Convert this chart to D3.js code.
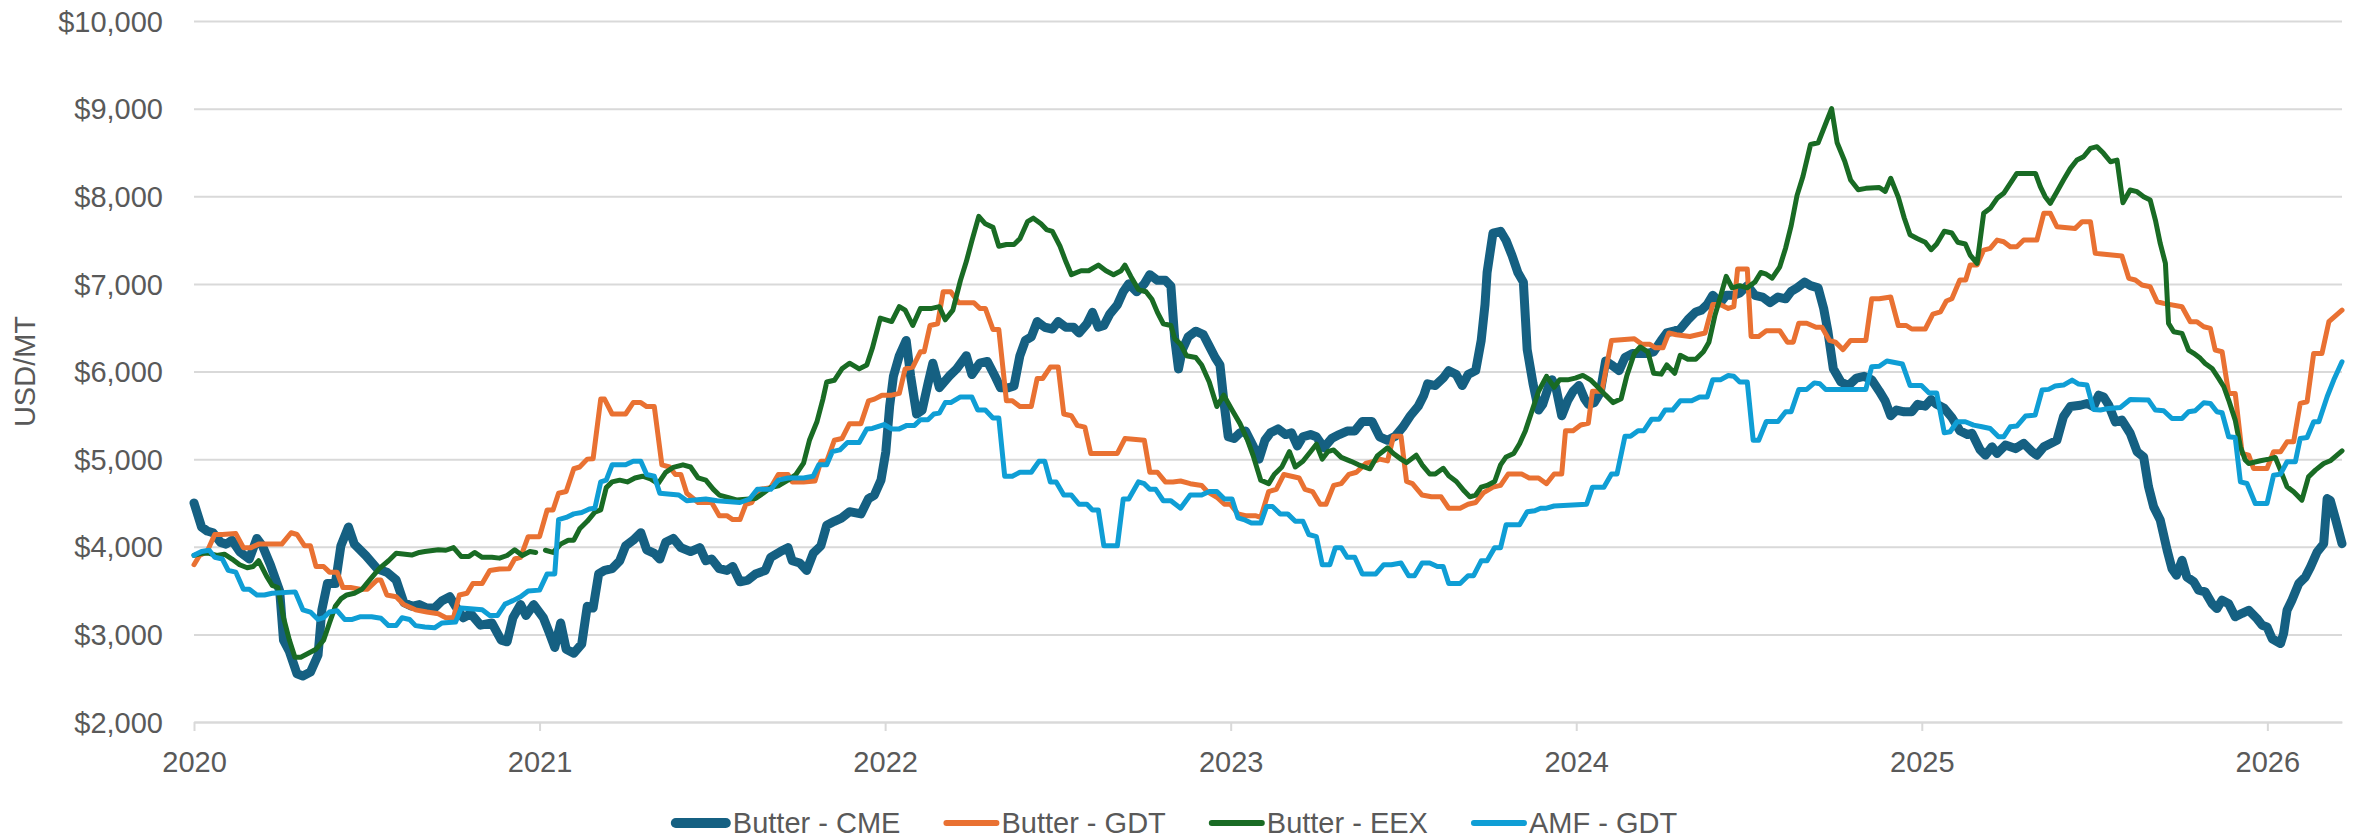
<!DOCTYPE html>
<html><head><meta charset="utf-8">
<script src="https://cdn.jsdelivr.net/npm/d3@7"></script>
<style>
html,body{margin:0;padding:0;background:#fff;}
svg{display:block;}
text{font-family:"Liberation Sans",Arial,sans-serif;fill:#595959;}
</style></head><body>
<svg id="chart" width="2356" height="840"></svg>
<script>
const seriesNames = ["Butter - CME","Butter - GDT","Butter - EEX","AMF - GDT"];
const seriesColors = ["#156082","#E97132","#196B24","#0F9ED5"];
const yTicks = [2000,3000,4000,5000,6000,7000,8000,9000,10000];
const xTicks = [2020,2021,2022,2023,2024,2025,2026];
const yTitle = "USD/MT";

// [decimal year, USD/MT]
const butterCME = [[2020.000,4500],[2020.022,4225],[2020.038,4180],[2020.055,4160],[2020.077,4050],[2020.093,4030],[2020.110,4075],[2020.132,3945],[2020.160,3860],[2020.182,4095],[2020.198,4010],[2020.221,3795],[2020.248,3495],[2020.259,2935],[2020.276,2805],[2020.298,2550],[2020.315,2525],[2020.337,2570],[2020.359,2765],[2020.370,3280],[2020.386,3580],[2020.409,3580],[2020.425,4010],[2020.447,4225],[2020.464,4030],[2020.497,3900],[2020.530,3750],[2020.558,3710],[2020.585,3620],[2020.607,3365],[2020.630,3320],[2020.652,3340],[2020.674,3300],[2020.696,3300],[2020.718,3385],[2020.740,3430],[2020.757,3320],[2020.779,3190],[2020.801,3235],[2020.829,3105],[2020.862,3130],[2020.889,2935],[2020.906,2915],[2020.923,3190],[2020.945,3340],[2020.961,3215],[2020.983,3340],[2021.011,3190],[2021.028,3020],[2021.044,2850],[2021.061,3130],[2021.077,2830],[2021.099,2785],[2021.122,2890],[2021.138,3320],[2021.155,3300],[2021.171,3690],[2021.188,3730],[2021.210,3750],[2021.232,3840],[2021.249,4010],[2021.271,4075],[2021.293,4160],[2021.310,3965],[2021.332,3925],[2021.348,3860],[2021.365,4050],[2021.387,4095],[2021.409,3990],[2021.437,3945],[2021.464,3990],[2021.481,3840],[2021.498,3860],[2021.520,3750],[2021.542,3730],[2021.559,3775],[2021.580,3600],[2021.603,3620],[2021.625,3690],[2021.653,3730],[2021.669,3880],[2021.697,3945],[2021.719,3990],
[2021.731,3840],[2021.753,3815],[2021.773,3730],[2021.792,3925],[2021.814,4010],[2021.831,4245],[2021.853,4290],[2021.875,4330],[2021.897,4400],[2021.930,4375],[2021.952,4550],[2021.969,4590],[2021.988,4760],[2022.002,5085],[2022.013,5600],[2022.024,5945],[2022.041,6180],[2022.061,6355],[2022.074,5945],[2022.091,5515],[2022.107,5558],[2022.124,5860],[2022.138,6095],[2022.157,5815],[2022.185,5945],[2022.207,6030],[2022.235,6180],[2022.251,5965],[2022.274,6095],[2022.296,6115],[2022.318,5945],[2022.334,5815],[2022.357,5815],[2022.373,5835],[2022.390,6180],[2022.406,6355],[2022.423,6395],[2022.440,6570],[2022.462,6505],[2022.484,6485],[2022.501,6570],[2022.523,6505],[2022.545,6505],[2022.561,6440],[2022.584,6545],[2022.600,6675],[2022.617,6505],[2022.633,6525],[2022.650,6655],[2022.672,6760],[2022.689,6910],[2022.705,7000],[2022.728,6910],[2022.750,7000],[2022.766,7105],[2022.788,7040],[2022.811,7040],[2022.827,6975],[2022.838,6375],[2022.849,6030],[2022.860,6245],[2022.877,6395],[2022.899,6460],[2022.921,6420],[2022.938,6290],[2022.955,6160],[2022.969,6075],[2022.982,5600],[2022.993,5255],[2023.010,5235],[2023.027,5300],[2023.043,5320],[2023.065,5150],[2023.082,5000],[2023.099,5215],[2023.115,5300],[2023.137,5345],[2023.159,5280],[2023.176,5300],[2023.193,5150],[2023.209,5255],[2023.231,5280],[2023.248,5255],[2023.270,5130],[2023.292,5235],[2023.314,5280],[2023.337,5320],[2023.359,5320],[2023.381,5430],[2023.409,5430],[2023.431,5255],
[2023.454,5215],[2023.476,5260],[2023.498,5365],[2023.520,5495],[2023.543,5605],[2023.559,5730],[2023.570,5860],[2023.592,5840],[2023.615,5925],[2023.631,6010],[2023.653,5965],[2023.670,5840],[2023.687,5965],[2023.709,6010],[2023.725,6355],[2023.736,6765],[2023.742,7130],[2023.759,7580],[2023.781,7600],[2023.797,7495],[2023.814,7325],[2023.831,7130],[2023.847,7020],[2023.858,6250],[2023.875,5860],[2023.891,5560],[2023.903,5625],[2023.919,5820],[2023.930,5905],[2023.941,5820],[2023.958,5495],[2023.975,5665],[2023.991,5775],[2024.008,5840],[2024.024,5690],[2024.035,5625],[2024.052,5645],[2024.069,5755],[2024.085,6120],[2024.102,6075],[2024.124,6010],[2024.141,6160],[2024.163,6205],[2024.202,6205],[2024.224,6225],[2024.246,6355],[2024.262,6440],[2024.285,6465],[2024.301,6485],[2024.323,6590],[2024.346,6680],[2024.362,6700],[2024.379,6765],[2024.395,6870],[2024.417,6785],[2024.434,6870],[2024.456,6870],[2024.473,6895],[2024.495,6980],[2024.517,6870],[2024.539,6850],[2024.561,6785],[2024.584,6850],[2024.606,6830],[2024.622,6915],[2024.639,6955],[2024.661,7020],[2024.678,6980],[2024.700,6955],[2024.716,6720],[2024.728,6465],[2024.744,6030],[2024.766,5880],[2024.788,5840],[2024.811,5925],[2024.833,5945],[2024.855,5905],[2024.877,5775],[2024.894,5665],[2024.910,5495],[2024.927,5560],[2024.949,5540],[2024.971,5540],[2024.988,5625],[2025.010,5605],[2025.027,5680],[2025.043,5625],[2025.065,5580],[2025.087,5475],[2025.110,5325],[2025.132,5280],
[2025.145,5295],[2025.169,5105],[2025.184,5045],[2025.203,5140],[2025.218,5065],[2025.242,5160],[2025.271,5120],[2025.295,5180],[2025.319,5085],[2025.333,5045],[2025.353,5140],[2025.391,5215],[2025.410,5485],[2025.430,5600],[2025.459,5615],[2025.478,5635],[2025.497,5600],[2025.512,5730],[2025.526,5710],[2025.541,5615],[2025.560,5425],[2025.579,5445],[2025.603,5295],[2025.623,5085],[2025.642,5025],[2025.656,4685],[2025.671,4455],[2025.690,4305],[2025.710,3960],[2025.724,3750],[2025.737,3675],[2025.753,3845],[2025.767,3655],[2025.787,3600],[2025.801,3505],[2025.820,3485],[2025.840,3350],[2025.854,3295],[2025.869,3390],[2025.888,3350],[2025.907,3200],[2025.927,3240],[2025.946,3275],[2025.970,3180],[2025.985,3105],[2025.999,3085],[2026.014,2950],[2026.038,2895],[2026.047,3010],[2026.057,3275],[2026.071,3390],[2026.091,3580],[2026.110,3655],[2026.125,3770],[2026.144,3940],[2026.163,4035],[2026.173,4550],[2026.182,4530],[2026.197,4320],[2026.216,4035]];

const butterGDT = [[2020.000,3795],[2020.016,3900],[2020.038,3945],[2020.060,4140],[2020.082,4140],[2020.121,4150],[2020.143,3990],[2020.165,3990],[2020.187,4030],[2020.254,4030],[2020.281,4160],[2020.298,4140],[2020.320,4010],[2020.337,4010],[2020.353,3775],[2020.375,3775],[2020.392,3710],[2020.414,3710],[2020.431,3535],[2020.453,3535],[2020.480,3515],[2020.502,3515],[2020.530,3620],[2020.541,3620],[2020.558,3450],[2020.585,3430],[2020.607,3340],[2020.641,3280],[2020.674,3255],[2020.707,3235],[2020.729,3190],[2020.751,3190],[2020.768,3450],[2020.790,3470],[2020.807,3580],[2020.834,3580],[2020.856,3730],[2020.884,3745],[2020.912,3750],[2020.928,3860],[2020.945,3880],[2020.967,4115],[2021.000,4115],[2021.022,4420],[2021.039,4420],[2021.055,4610],[2021.077,4630],[2021.099,4890],[2021.116,4910],[2021.138,5000],[2021.155,5005],[2021.177,5685],[2021.188,5685],[2021.210,5515],[2021.249,5515],[2021.271,5645],[2021.293,5645],[2021.310,5600],[2021.332,5600],[2021.354,4935],[2021.376,4910],[2021.393,4825],[2021.409,4825],[2021.426,4610],[2021.459,4505],[2021.498,4505],[2021.520,4355],[2021.542,4355],[2021.559,4310],[2021.580,4310],[2021.597,4485],[2021.614,4505],[2021.636,4655],[2021.669,4675],[2021.691,4825],[2021.719,4825],
[2021.731,4740],[2021.764,4740],[2021.797,4750],[2021.814,4975],[2021.831,4975],[2021.853,5215],[2021.875,5235],[2021.897,5405],[2021.930,5405],[2021.952,5665],[2021.969,5685],[2021.991,5730],[2022.019,5730],[2022.041,5750],[2022.058,6030],[2022.080,6050],[2022.102,6225],[2022.113,6225],[2022.130,6525],[2022.152,6545],[2022.168,6910],[2022.190,6910],[2022.213,6785],[2022.257,6785],[2022.274,6720],[2022.290,6720],[2022.312,6480],[2022.329,6480],[2022.351,5665],[2022.368,5665],[2022.390,5600],[2022.423,5600],[2022.440,5920],[2022.456,5920],[2022.478,6050],[2022.501,6050],[2022.517,5515],[2022.539,5495],[2022.556,5385],[2022.578,5365],[2022.595,5065],[2022.672,5065],[2022.694,5235],[2022.750,5215],[2022.766,4850],[2022.788,4850],[2022.811,4740],[2022.833,4740],[2022.855,4750],[2022.883,4720],[2022.916,4700],[2022.932,4630],[2022.960,4565],[2022.982,4485],[2022.999,4485],[2023.021,4375],[2023.043,4355],[2023.071,4355],[2023.087,4335],[2023.110,4630],[2023.132,4655],[2023.154,4825],[2023.176,4805],[2023.198,4785],[2023.215,4655],[2023.237,4630],[2023.259,4485],[2023.276,4485],[2023.298,4700],[2023.320,4720],[2023.342,4825],[2023.364,4850],[2023.392,4955],[2023.414,4975],[2023.431,5000],
[2023.454,4980],[2023.471,5260],[2023.493,5260],[2023.509,4745],[2023.526,4720],[2023.554,4590],[2023.581,4570],[2023.609,4570],[2023.631,4440],[2023.664,4440],[2023.687,4485],[2023.709,4505],[2023.731,4615],[2023.759,4680],[2023.781,4700],[2023.803,4830],[2023.842,4830],[2023.864,4785],[2023.891,4785],[2023.914,4720],[2023.936,4830],[2023.958,4830],[2023.969,5325],[2023.991,5325],[2024.013,5390],[2024.035,5410],[2024.047,5775],[2024.074,5775],[2024.102,6355],[2024.168,6375],[2024.190,6310],[2024.213,6310],[2024.229,6270],[2024.251,6270],[2024.268,6440],[2024.290,6420],[2024.329,6400],[2024.373,6440],[2024.395,6765],[2024.417,6765],[2024.440,6720],[2024.456,6740],[2024.467,7170],[2024.495,7170],[2024.506,6400],[2024.528,6400],[2024.550,6465],[2024.589,6465],[2024.611,6335],[2024.628,6335],[2024.644,6550],[2024.667,6550],[2024.694,6505],[2024.711,6505],[2024.733,6355],[2024.750,6335],[2024.772,6250],[2024.794,6355],[2024.838,6355],[2024.855,6830],[2024.877,6830],[2024.910,6850],[2024.932,6525],[2024.955,6525],[2024.971,6485],[2025.010,6485],[2025.032,6655],[2025.054,6680],[2025.071,6805],[2025.087,6830],[2025.110,7045],[2025.127,7045],
[2025.140,7215],[2025.160,7215],[2025.179,7386],[2025.198,7405],[2025.218,7500],[2025.237,7481],[2025.256,7424],[2025.275,7424],[2025.295,7500],[2025.333,7500],[2025.353,7805],[2025.372,7805],[2025.391,7652],[2025.444,7633],[2025.464,7710],[2025.488,7710],[2025.502,7348],[2025.521,7340],[2025.579,7318],[2025.599,7063],[2025.618,7044],[2025.637,6987],[2025.661,6968],[2025.681,6796],[2025.700,6777],[2025.753,6739],[2025.777,6568],[2025.796,6568],[2025.816,6511],[2025.835,6492],[2025.849,6245],[2025.869,6226],[2025.888,5750],[2025.907,5750],[2025.927,5065],[2025.946,5046],[2025.960,4893],[2025.999,4893],[2026.018,5084],[2026.038,5084],[2026.057,5198],[2026.076,5198],[2026.095,5636],[2026.115,5655],[2026.134,6206],[2026.158,6206],[2026.178,6568],[2026.216,6701]];

const butterEEX = [[2020.000,3902],[2020.022,3925],[2020.044,3925],[2020.066,3900],[2020.088,3915],[2020.110,3860],[2020.132,3795],[2020.154,3760],[2020.171,3775],[2020.187,3840],[2020.210,3665],[2020.226,3560],[2020.243,3535],[2020.259,3190],[2020.276,2935],[2020.292,2740],[2020.309,2740],[2020.331,2785],[2020.353,2830],[2020.375,2935],[2020.392,3130],[2020.409,3320],[2020.425,3405],[2020.442,3450],[2020.464,3470],[2020.486,3515],[2020.508,3620],[2020.536,3750],[2020.563,3840],[2020.585,3925],[2020.630,3905],[2020.652,3935],[2020.668,3945],[2020.707,3965],[2020.729,3960],[2020.751,3990],[2020.773,3890],[2020.796,3890],[2020.812,3935],[2020.834,3880],[2020.862,3880],[2020.884,3870],[2020.906,3900],[2020.928,3965],[2020.950,3900],[2020.972,3945],[2020.989,3935],[2021.003,null],[2021.017,3960],[2021.039,3935],[2021.061,4030],[2021.083,4075],[2021.099,4075],[2021.116,4205],[2021.138,4290],[2021.160,4395],[2021.177,4420],[2021.193,4675],[2021.210,4740],[2021.232,4760],[2021.254,4740],[2021.276,4785],[2021.298,4805],[2021.321,4775],[2021.343,4720],[2021.365,4850],[2021.387,4905],[2021.415,4935],[2021.437,4910],[2021.459,4785],[2021.481,4760],[2021.503,4655],[2021.520,4590],[2021.547,4560],[2021.570,4535],[2021.625,4550],[2021.647,4610],[2021.669,4675],[2021.691,4695],[2021.719,4760],
[2021.742,4825],[2021.764,4955],[2021.781,5215],[2021.803,5430],[2021.820,5685],[2021.831,5880],[2021.853,5900],[2021.875,6030],[2021.897,6095],[2021.925,6030],[2021.947,6075],[2021.963,6265],[2021.986,6610],[2022.019,6570],[2022.041,6740],[2022.058,6700],[2022.080,6525],[2022.102,6720],[2022.135,6720],[2022.157,6740],[2022.174,6590],[2022.196,6700],[2022.218,7040],[2022.235,7255],[2022.251,7490],[2022.271,7770],[2022.290,7685],[2022.312,7645],[2022.329,7430],[2022.351,7450],[2022.373,7450],[2022.390,7515],[2022.412,7710],[2022.429,7750],[2022.451,7685],[2022.467,7620],[2022.484,7600],[2022.506,7430],[2022.523,7255],[2022.539,7105],[2022.567,7150],[2022.589,7150],[2022.617,7215],[2022.639,7150],[2022.661,7105],[2022.683,7150],[2022.694,7215],[2022.711,7085],[2022.733,6935],[2022.755,6910],[2022.772,6825],[2022.788,6675],[2022.805,6545],[2022.827,6525],[2022.838,6375],[2022.855,6310],[2022.872,6180],[2022.899,6160],[2022.916,6075],[2022.938,5880],[2022.960,5600],[2022.980,5730],[2023.004,5560],[2023.027,5405],[2023.049,5215],[2023.065,5040],[2023.087,4760],[2023.110,4720],[2023.126,4825],[2023.148,4910],[2023.170,5085],[2023.187,4910],[2023.209,4975],[2023.231,5085],[2023.248,5170],[2023.265,5000],[2023.281,5085],[2023.298,5105],[2023.320,5020],[2023.348,4975],[2023.370,4935],[2023.403,4890],[2023.425,5040],
[2023.454,5130],[2023.471,5065],[2023.493,5000],[2023.509,4960],[2023.537,5045],[2023.554,4935],[2023.576,4830],[2023.592,4830],[2023.615,4895],[2023.631,4810],[2023.653,4745],[2023.676,4635],[2023.692,4570],[2023.709,4590],[2023.725,4680],[2023.742,4700],[2023.764,4745],[2023.781,4935],[2023.797,5025],[2023.819,5065],[2023.836,5175],[2023.853,5325],[2023.869,5515],[2023.891,5775],[2023.914,5945],[2023.936,5820],[2023.952,5905],[2023.975,5905],[2023.997,5925],[2024.019,5955],[2024.041,5905],[2024.063,5820],[2024.085,5730],[2024.107,5645],[2024.130,5690],[2024.146,5945],[2024.168,6205],[2024.185,6280],[2024.207,6225],[2024.224,5980],[2024.246,5970],[2024.262,6075],[2024.285,5980],[2024.301,6185],[2024.323,6140],[2024.346,6140],[2024.368,6225],[2024.384,6335],[2024.401,6635],[2024.417,6850],[2024.434,7085],[2024.451,6955],[2024.473,6980],[2024.495,6955],[2024.517,7020],[2024.534,7130],[2024.550,7110],[2024.567,7065],[2024.589,7195],[2024.606,7410],[2024.622,7665],[2024.639,8010],[2024.656,8225],[2024.678,8590],[2024.700,8610],[2024.722,8830],[2024.739,9000],[2024.755,8610],[2024.777,8400],[2024.794,8185],[2024.816,8075],[2024.838,8090],[2024.877,8100],[2024.894,8055],[2024.910,8205],[2024.932,7990],[2024.949,7755],[2024.966,7560],[2024.988,7515],[2025.010,7475],[2025.027,7390],[2025.043,7455],[2025.065,7600],[2025.087,7580],[2025.104,7475],[2025.126,7455],
[2025.140,7329],[2025.160,7234],[2025.179,7805],[2025.198,7862],[2025.218,7976],[2025.237,8033],[2025.256,8147],[2025.275,8261],[2025.329,8261],[2025.343,8109],[2025.357,7995],[2025.372,7919],[2025.391,8052],[2025.410,8185],[2025.430,8318],[2025.449,8413],[2025.468,8451],[2025.488,8547],[2025.507,8566],[2025.526,8490],[2025.546,8394],[2025.565,8413],[2025.582,7926],[2025.603,8071],[2025.623,8052],[2025.642,7995],[2025.661,7957],[2025.676,7728],[2025.690,7462],[2025.705,7234],[2025.714,6549],[2025.729,6454],[2025.753,6435],[2025.772,6245],[2025.787,6207],[2025.806,6150],[2025.820,6092],[2025.840,6035],[2025.859,5921],[2025.874,5826],[2025.888,5674],[2025.907,5445],[2025.922,5141],[2025.936,4989],[2025.946,4950],[2025.980,4981],[2026.004,5000],[2026.023,5019],[2026.038,4874],[2026.057,4684],[2026.076,4627],[2026.100,4532],[2026.119,4798],[2026.139,4874],[2026.163,4950],[2026.182,4981],[2026.216,5095]];

const amfGDT = [[2020.000,3902],[2020.022,3945],[2020.044,3960],[2020.060,3880],[2020.082,3860],[2020.099,3730],[2020.121,3710],[2020.143,3515],[2020.160,3515],[2020.182,3450],[2020.204,3450],[2020.226,3470],[2020.293,3485],[2020.315,3280],[2020.337,3255],[2020.359,3170],[2020.375,3190],[2020.392,3255],[2020.414,3270],[2020.436,3170],[2020.458,3170],[2020.480,3200],[2020.514,3200],[2020.541,3185],[2020.563,3100],[2020.585,3100],[2020.602,3190],[2020.624,3170],[2020.641,3100],[2020.668,3085],[2020.696,3075],[2020.718,3130],[2020.757,3140],[2020.773,3300],[2020.834,3280],[2020.856,3215],[2020.878,3215],[2020.900,3345],[2020.923,3385],[2020.945,3430],[2020.967,3495],[2021.000,3505],[2021.022,3690],[2021.044,3690],[2021.055,4310],[2021.077,4335],[2021.099,4375],[2021.122,4390],[2021.144,4430],[2021.160,4440],[2021.177,4740],[2021.193,4760],[2021.210,4935],[2021.249,4935],[2021.271,4975],[2021.293,4975],[2021.310,4825],[2021.332,4805],[2021.348,4610],[2021.403,4590],[2021.426,4525],[2021.481,4545],[2021.514,4525],[2021.580,4505],[2021.608,4545],[2021.630,4655],[2021.669,4655],[2021.691,4760],[2021.719,4785],
[2021.764,4785],[2021.792,4805],[2021.808,4935],[2021.831,4935],[2021.847,5085],[2021.869,5105],[2021.891,5190],[2021.925,5190],[2021.947,5345],[2021.963,5350],[2021.997,5395],[2022.019,5345],[2022.041,5345],[2022.063,5385],[2022.085,5385],[2022.102,5450],[2022.124,5450],[2022.141,5515],[2022.157,5525],[2022.174,5645],[2022.190,5645],[2022.218,5710],[2022.251,5710],[2022.268,5560],[2022.290,5560],[2022.312,5470],[2022.329,5470],[2022.346,4805],[2022.368,4805],[2022.390,4850],[2022.423,4850],[2022.445,4975],[2022.462,4975],[2022.478,4740],[2022.495,4740],[2022.517,4590],[2022.539,4590],[2022.561,4485],[2022.584,4485],[2022.600,4420],[2022.617,4420],[2022.633,4010],[2022.672,4010],[2022.689,4545],[2022.705,4545],[2022.733,4740],[2022.750,4720],[2022.766,4655],[2022.783,4655],[2022.805,4525],[2022.827,4525],[2022.855,4440],[2022.883,4590],[2022.916,4590],[2022.938,4630],[2022.960,4630],[2022.982,4545],[2023.004,4545],[2023.021,4330],[2023.038,4310],[2023.060,4270],[2023.087,4270],[2023.104,4460],[2023.121,4460],[2023.143,4375],[2023.165,4375],[2023.187,4290],[2023.209,4290],[2023.226,4140],[2023.248,4115],[2023.265,3795],[2023.287,3795],[2023.303,3990],[2023.320,3990],[2023.337,3880],[2023.359,3880],[2023.381,3690],[2023.420,3690],
[2023.443,3795],[2023.465,3795],[2023.493,3815],[2023.515,3670],[2023.532,3670],[2023.554,3815],[2023.576,3815],[2023.598,3775],[2023.615,3775],[2023.631,3580],[2023.664,3580],[2023.687,3670],[2023.703,3670],[2023.725,3840],[2023.742,3840],[2023.764,3990],[2023.781,3990],[2023.797,4250],[2023.836,4250],[2023.858,4400],[2023.880,4410],[2023.897,4440],[2023.914,4440],[2023.936,4465],[2024.030,4485],[2024.047,4680],[2024.080,4680],[2024.102,4830],[2024.118,4830],[2024.141,5260],[2024.157,5260],[2024.179,5325],[2024.196,5325],[2024.218,5455],[2024.240,5455],[2024.257,5560],[2024.279,5560],[2024.301,5665],[2024.334,5665],[2024.357,5710],[2024.379,5710],[2024.395,5905],[2024.417,5905],[2024.440,5955],[2024.456,5945],[2024.473,5880],[2024.495,5880],[2024.512,5215],[2024.528,5215],[2024.550,5430],[2024.584,5430],[2024.606,5540],[2024.622,5540],[2024.644,5795],[2024.667,5795],[2024.689,5870],[2024.705,5860],[2024.722,5795],[2024.838,5795],[2024.855,6055],[2024.877,6060],[2024.899,6120],[2024.944,6085],[2024.966,5840],[2024.999,5840],[2025.021,5755],[2025.043,5755],[2025.065,5300],
[2025.082,5312],[2025.102,5426],[2025.126,5426],[2025.150,5388],[2025.174,5369],[2025.198,5350],[2025.222,5255],[2025.237,5255],[2025.256,5369],[2025.275,5377],[2025.300,5491],[2025.328,5503],[2025.348,5788],[2025.367,5796],[2025.386,5834],[2025.410,5845],[2025.435,5902],[2025.454,5857],[2025.478,5845],[2025.497,5567],[2025.517,5560],[2025.541,5579],[2025.575,5590],[2025.603,5681],[2025.656,5674],[2025.676,5560],[2025.700,5552],[2025.724,5464],[2025.753,5464],[2025.772,5541],[2025.791,5552],[2025.816,5643],[2025.835,5636],[2025.854,5541],[2025.869,5529],[2025.888,5255],[2025.907,5247],[2025.922,4741],[2025.941,4722],[2025.965,4494],[2025.999,4494],[2026.018,4817],[2026.038,4829],[2026.057,4970],[2026.081,4970],[2026.095,5236],[2026.115,5247],[2026.134,5426],[2026.149,5426],[2026.173,5712],[2026.192,5902],[2026.216,6111]];

const seriesData = [butterCME, butterGDT, butterEEX, amfGDT];
const seriesWidths = [9,5,5,5];
const legendSwatchWidths = [10,6,6,6];

const svg = d3.select("#chart");
const FS = 29;
const plot = {left:194, right:2342, top:21, bottom:722};

const x = d3.scaleLinear().domain([2020, 2026.216]).range([plot.left, plot.right]);
const y = d3.scaleLinear().domain([2000, 10000]).range([plot.bottom, plot.top]);

// Y axis with gridlines
const yAxis = svg.append("g").attr("transform", `translate(${plot.left},0)`)
  .call(d3.axisLeft(y).tickValues(yTicks).tickSize(-(plot.right-plot.left)).tickPadding(31)
    .tickFormat(d => "$" + d3.format(",")(d)));
yAxis.select(".domain").remove();
yAxis.selectAll(".tick line").attr("stroke","#d9d9d9").attr("stroke-width",2);
yAxis.selectAll(".tick text").attr("font-size",FS).attr("fill","#595959").attr("dy","0.35em")
  .style("font-family",'"Liberation Sans",Arial,sans-serif');

// X axis
const xAxis = svg.append("g").attr("transform", `translate(0,${plot.bottom})`)
  .call(d3.axisBottom(x).tickValues(xTicks).tickSize(9).tickSizeOuter(0).tickFormat(d3.format("d")));
xAxis.select(".domain").attr("stroke","#d9d9d9").attr("stroke-width",2);
xAxis.selectAll(".tick line").attr("stroke","#d9d9d9").attr("stroke-width",2);
xAxis.selectAll(".tick text").attr("font-size",FS).attr("fill","#595959").attr("y",40).attr("dy","0.35em")
  .style("font-family",'"Liberation Sans",Arial,sans-serif');

// Y title
svg.append("text").attr("transform",`translate(25,${(plot.top+plot.bottom)/2}) rotate(-90)`)
  .attr("text-anchor","middle").attr("dy","0.35em").attr("font-size",FS).text(yTitle);

// Lines
const line = d3.line().defined(d => d[1] != null).x(d => x(d[0])).y(d => y(d[1]));
seriesData.forEach((data, i) => {
  svg.append("path").datum(data).attr("fill","none")
    .attr("stroke", seriesColors[i]).attr("stroke-width", seriesWidths[i])
    .attr("stroke-linejoin","round").attr("stroke-linecap","round")
    .attr("d", line);
});

// Legend
const legend = svg.append("g");
const legY = 823;
let cx = 0;
const items = [];
seriesNames.forEach((name, i) => {
  const g = legend.append("g");
  const sw = legendSwatchWidths[i];
  g.append("line").attr("x1", cx + sw/2).attr("x2", cx + 56 - sw/2 + (i===0?4:0)).attr("y1", legY).attr("y2", legY)
    .attr("stroke", seriesColors[i]).attr("stroke-width", sw).attr("stroke-linecap","round");
  const swEnd = cx + 56 + (i===0?4:0);
  const t = g.append("text").attr("x", swEnd + 2).attr("y", legY).attr("dy","0.35em")
    .attr("font-size", FS).text(name);
  const tw = t.node().getComputedTextLength();
  cx = swEnd + 2 + tw + 43;
});
const totalW = cx - 43;
legend.attr("transform", `translate(${1174 - totalW/2},0)`);
</script>
</body></html>
